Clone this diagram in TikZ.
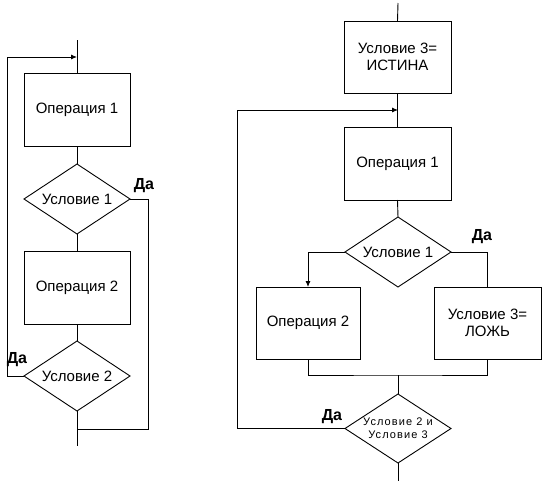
\documentclass[tikz,border=0pt]{standalone}
\usepackage{fontspec}
\setmainfont{Liberation Sans}
\usetikzlibrary{shapes.geometric,arrows.meta}
\begin{document}
\begin{tikzpicture}[x=1pt,y=-1pt,
  line width=0.9pt,
  every node/.style={font=\fontsize{15}{17}\selectfont},
  box/.style={draw,rectangle,minimum width=106pt,minimum height=73pt,inner sep=0pt,outer sep=0pt,align=center},
  dia/.style={draw,diamond,minimum width=106pt,minimum height=70pt,aspect=1.5,inner sep=0pt,outer sep=0pt,align=center},
  yes/.style={font=\fontsize{16}{18}\selectfont\bfseries,inner sep=0pt},
  arr/.style={-{Latex[length=6pt,width=5pt]}}
]
\useasboundingbox (0,0) rectangle (550,490);
% left chart
\coordinate (Ltop) at (77,40);
\coordinate (Larr) at (77,57);
\node[box] (L1) at (77,109.5) {Операция 1};
\node[dia] (LC1) at (77,199) {Условие 1};
\node[box] (L2) at (77,287.5) {Операция 2};
\node[dia] (LC2) at (77,376) {Условие 2};
\coordinate (Lend) at (77,446);
\coordinate (Ljoin) at (77,429);
\coordinate (Lloop) at (7,57);
\coordinate (Lright) at (148,429);
\draw (Ltop) -- (L1.north);
\draw (L1.south) -- (LC1.north);
\draw (LC1.south) -- (L2.north);
\draw (L2.south) -- (LC2.north);
\draw (LC2.south) -- (Lend);
\draw[arr] (LC2.west) -| (Lloop) -- (Larr);
\draw (LC1.east) -| (Lright) -- (Ljoin);
\node[yes] (Lyes1) at (144,186) {Да};
\node[yes] (Lyes2) at (17,360) {Да};
% right chart
\coordinate (Rtop) at (398,3);
\node[box,minimum width=107pt,minimum height=72pt] (R0) at (397.5,57) {Условие 3=\\ИСТИНА};
\coordinate (Rarr) at (398,110);
\node[box,minimum width=107pt] (R1) at (397.5,163.5) {Операция 1};
\node[dia] (RC1) at (398,252) {Условие 1};
\node[box,minimum width=104pt,minimum height=72pt] (R2) at (308,323) {Операция 2};
\node[box,minimum width=107pt,minimum height=72pt] (R3) at (487.5,323) {Условие 3=\\ЛОЖЬ};
\coordinate (Rjoin) at (398,375);
\node[dia,minimum height=69pt,font=\fontsize{11}{13}\selectfont\addfontfeature{LetterSpace=10}] (RC2) at (398,428.5) {Условие 2 и\\Условие 3};
\coordinate (Rend) at (398,481);
\coordinate (Rloop) at (237,110);
\draw (Rtop) -- (R0.north);
\draw (R0.south) -- (R1.north);
\draw (R1.south) -- (RC1.north);
\draw[arr] (RC1.west) -| (R2.north);
\draw (RC1.east) -| (R3.north);
\draw (R2.south) |- (Rjoin) -| (R3.south);
\draw (Rjoin) -- (RC2.north);
\draw (RC2.south) -- (Rend);
\draw[arr] (RC2.west) -| (Rloop) -- (Rarr);
\node[yes] (Ryes1) at (482,237) {Да};
\node[yes] (Ryes2) at (332,417) {Да};
\end{tikzpicture}
\end{document}
